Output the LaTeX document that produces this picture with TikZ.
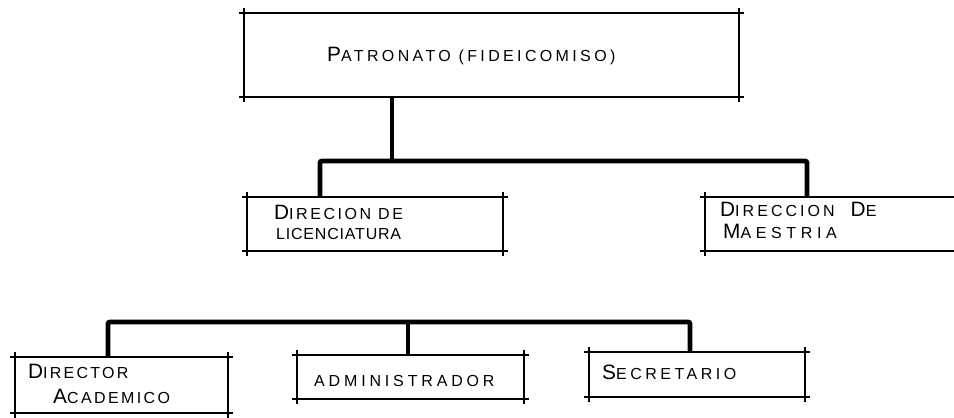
\documentclass[tikz,border=0pt]{standalone}
\usepackage{fontspec}
\usepackage{graphicx}
\setmainfont{Liberation Sans}
\newcommand\ls[1]{\addfontfeature{LetterSpace=#1}}
\newcommand\ini[1]{\scalebox{1.3}{#1}}
\begin{document}
\begin{tikzpicture}[x=1pt,y=-1pt,
  box/.style={draw=none, inner sep=0pt, outer sep=0pt},
  edge/.style={line width=1.2pt, shorten <=-5pt, shorten >=-5pt},
  conn/.style={line width=4.8pt, rounded corners=2pt},
  lbl/.style={anchor=base west, inner sep=0pt, font=\fontsize{16}{18}\selectfont}]
\useasboundingbox (0,0) rectangle (954,418);
% boxes
\node[box, minimum width=495pt, minimum height=84pt] (pat) at (491.5,55) {};
\node[box, minimum width=256pt, minimum height=54pt] (lic) at (375,224) {};
\node[box, minimum width=270pt, minimum height=54pt] (mae) at (840,224) {};
\node[box, minimum width=213pt, minimum height=56pt] (dir) at (121.5,385) {};
\node[box, minimum width=227pt, minimum height=44pt] (adm) at (410.5,377) {};
\node[box, minimum width=216pt, minimum height=45pt] (sec) at (697,374.5) {};
\foreach \n in {pat,lic,mae,dir,adm,sec}{
  \draw[edge] (\n.north west) -- (\n.north east);
  \draw[edge] (\n.south west) -- (\n.south east);
  \draw[edge] (\n.north west) -- (\n.south west);
  \draw[edge] (\n.north east) -- (\n.south east);
}
% labels
\node[lbl] (pat-t) at (327,61) {\ls{21}\ini{P}ATRONATO (FIDEICOMISO)};
\node[lbl] (lic-t1) at (274,219) {\ls{16}\ini{D}IRECION DE};
\node[lbl] (lic-t2) at (276,239) {\ls{5}LICENCIATURA};
\node[lbl] (mae-t1) at (720,216) {\ls{19}\ini{D}IRECCION\quad\ini{D}E};
\node[lbl] (mae-t2) at (723,238) {\ls{29}\ini{M}AESTRIA};
\node[lbl] (dir-t1) at (28,378) {\ls{14}\ini{D}IRECTOR};
\node[lbl] (dir-t2) at (53,403) {\ls{15}\ini{A}CADEMICO};
\node[lbl] (adm-t) at (314,386) {\ls{24}ADMINISTRADOR};
\node[lbl] (sec-t) at (602,379) {\ls{22}\ini{S}ECRETARIO};
% connectors
\coordinate (j0) at (392,161);
\coordinate (b1) at (320,161);
\coordinate (b2) at (807,161);
\draw[conn] (pat.south -| j0) -- (j0);
\draw[conn] (lic.north -| b1) |- (b2) -- (mae.north -| b2);
\coordinate (c1) at (108,322);
\coordinate (c2) at (408,322);
\coordinate (c3) at (690,322);
\draw[conn] (dir.north -| c1) |- (c3) -- (sec.north -| c3);
\draw[conn] (c2) -- (adm.north -| c2);
\end{tikzpicture}
\end{document}
